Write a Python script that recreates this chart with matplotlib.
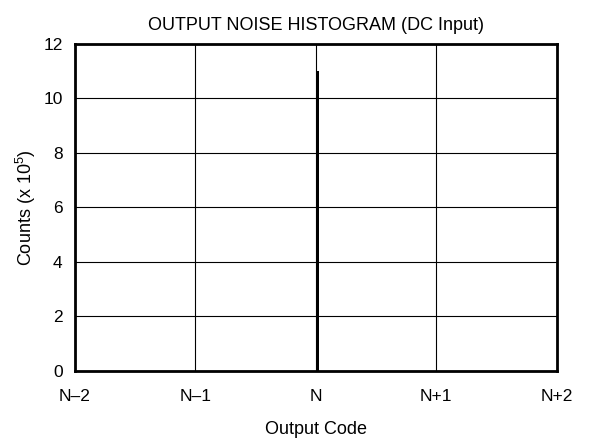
import numpy as np
import matplotlib
matplotlib.use("Agg")
import matplotlib.pyplot as plt

plt.rcParams['font.family'] = ['Liberation Sans', 'DejaVu Sans']
plt.rcParams['mathtext.fontset'] = 'custom'
plt.rcParams['mathtext.rm'] = 'Liberation Sans'
plt.rcParams['mathtext.it'] = 'Liberation Sans'

# histogram data: offset from code N, counts in units of 1e5
codes = [-2, -1, 0, 1, 2]
counts = [0.0, 0.0, 11.0, 0.0, 0.0]
code_labels = ['N\u20132', 'N\u20131', 'N', 'N+1', 'N+2']

fig = plt.figure(figsize=(5.93, 4.40), dpi=100)
ax = fig.add_axes([0.1265, 0.157, 0.8125, 0.743])

ax.bar(codes, counts, width=0.024, color='black', align='edge', zorder=3)

ax.set_xlim(-2, 2)
ax.set_ylim(0, 12)
ax.set_xticks(codes)
ax.set_xticklabels(code_labels)
ax.set_yticks(np.arange(0, 13, 2))
ax.tick_params(axis='x', length=0, labelsize=12.5, pad=13)
ax.tick_params(axis='y', length=0, labelsize=12.5, pad=9)
ax.grid(True, color='black', linewidth=0.8)
ax.set_axisbelow(True)
for s in ax.spines.values():
    s.set_linewidth(2)

ax.set_title('OUTPUT NOISE HISTOGRAM (DC Input)', fontsize=13, pad=10)
ax.set_xlabel('Output Code', fontsize=13, labelpad=12)
ax.set_ylabel('Counts (x 10$^{5}$)', fontsize=13, labelpad=4)

fig.savefig('out.png', dpi=100)
